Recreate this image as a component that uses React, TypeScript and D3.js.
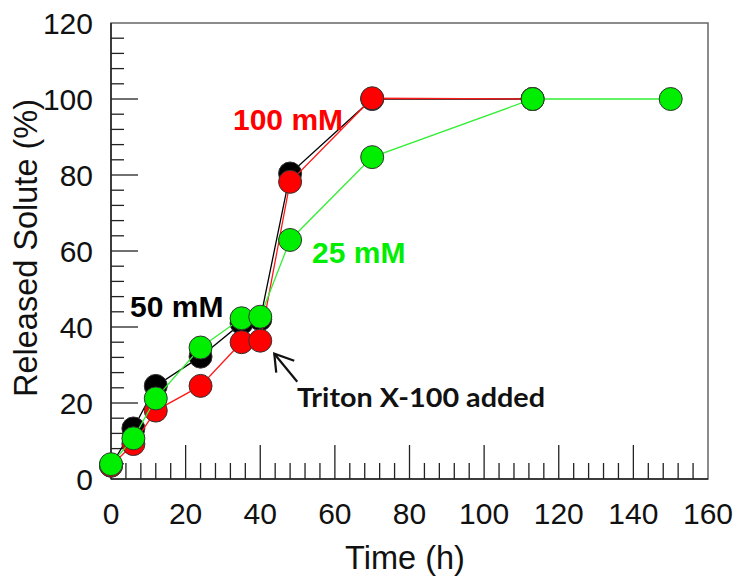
import React from "react";
import * as d3 from "d3";

// sampling times (h)
const times = [0, 6, 12, 24, 35, 40, 48, 70, 113];
const times25 = [0, 6, 12, 24, 35, 40, 48, 70, 113, 150];

// released solute (%)
const released50 = [3.5, 13.3, 24.5, 32.2, 41, 42, 80.4, 100, 100];
const released100 = [3.5, 9.2, 18, 24.5, 36, 36.4, 78.2, 100.2, 100];
const released25 = [3.9, 10.7, 21.2, 34.6, 42.3, 42.7, 62.9, 84.7, 100, 100];

const xMajor = [0, 20, 40, 60, 80, 100, 120, 140, 160];
const yMajor = [0, 20, 40, 60, 80, 100, 120];

const W = 739;
const H = 578;
const left = 111;
const right = 708;
const top = 23;
const bottom = 479;

const App: React.FC = () => {
  const x = d3.scaleLinear().domain([0, 160]).range([left, right]);
  const y = d3.scaleLinear().domain([0, 120]).range([bottom, top]);

  const series = [
    { name: "50", t: times, v: released50, color: "#000000", line: "#000000" },
    { name: "100", t: times, v: released100, color: "#ff0000", line: "#ff1a1a" },
    { name: "25", t: times25, v: released25, color: "#00ee00", line: "#33ee33" },
  ];

  const line = d3
    .line<[number, number]>()
    .x((d) => x(d[0]))
    .y((d) => y(d[1]));

  const xMinor = d3.range(0, 161, 4).filter((d) => d % 20 !== 0);
  const yMinor = d3.range(0, 121, 4).filter((d) => d % 20 !== 0);

  const font = "'Liberation Sans', Arial, sans-serif";

  // arrow pointing to the t=40 point
  const tip: [number, number] = [x(40) + 14, y(36.4) + 13];
  const tail: [number, number] = [tip[0] + 23, tip[1] + 28];

  return (
    <svg
      width={W}
      height={H}
      style={{ position: "absolute", left: 0, top: 0, background: "#fff" }}
    >
      {/* frame */}
      <rect
        x={left}
        y={top}
        width={right - left}
        height={bottom - top}
        fill="none"
        stroke="#666"
        strokeWidth={1.5}
      />
      <line x1={left} x2={left} y1={top} y2={bottom} stroke="#222" strokeWidth={1.5} />
      <line x1={left} x2={right} y1={bottom} y2={bottom} stroke="#222" strokeWidth={1.5} />

      {/* y ticks */}
      {yMajor.map((d) => (
        <g key={"ym" + d}>
          {d > 0 && d < 120 && (
            <line x1={left} x2={left + 27} y1={y(d)} y2={y(d)} stroke="#222" strokeWidth={1.3} />
          )}
          <text
            x={93}
            y={y(d)}
            dy="0.36em"
            textAnchor="end"
            fontFamily={font}
            fontSize={30}
            fill="#111"
          >
            {d}
          </text>
        </g>
      ))}
      {yMinor.map((d) => (
        <line key={"yn" + d} x1={left} x2={left + 13} y1={y(d)} y2={y(d)} stroke="#222" strokeWidth={1.3} />
      ))}

      {/* x ticks */}
      {xMajor.map((d) => (
        <g key={"xm" + d}>
          {d > 0 && d < 160 && (
            <line x1={x(d)} x2={x(d)} y1={bottom} y2={bottom - 34} stroke="#222" strokeWidth={1.3} />
          )}
          <text
            x={x(d)}
            y={524}
            textAnchor="middle"
            fontFamily={font}
            fontSize={30}
            fill="#111"
          >
            {d}
          </text>
        </g>
      ))}
      {xMinor.map((d) => (
        <line key={"xn" + d} x1={x(d)} x2={x(d)} y1={bottom} y2={bottom - 16} stroke="#222" strokeWidth={1.3} />
      ))}

      {/* axis titles */}
      <text
        x={405}
        y={569}
        textAnchor="middle"
        fontFamily={font}
        fontSize={32.5}
        fill="#111"
      >
        Time (h)
      </text>
      <text
        transform={`translate(37,248) rotate(-90)`}
        textAnchor="middle"
        fontFamily={font}
        fontSize={32.5}
        fill="#111"
      >
        Released Solute (%)
      </text>

      {/* series */}
      {series.map((s) => {
        const pts = s.t.map((t, i) => [t, s.v[i]] as [number, number]);
        return (
          <g key={s.name}>
            <path d={line(pts) || ""} fill="none" stroke={s.line} strokeWidth={1.3} />
            {pts.map((p, i) => (
              <circle
                key={i}
                cx={x(p[0])}
                cy={y(p[1])}
                r={11.5}
                fill={s.color}
                stroke="#333"
                strokeWidth={1}
              />
            ))}
          </g>
        );
      })}

      {/* labels */}
      <text x={233} y={130} fontFamily={font} fontWeight="bold" fontSize={30} fill="#ff0000">
        100 mM
      </text>
      <text x={130} y={317} fontFamily={font} fontWeight="bold" fontSize={30} fill="#000">
        50 mM
      </text>
      <text x={312} y={263} fontFamily={font} fontWeight="bold" fontSize={30} fill="#00ee00">
        25 mM
      </text>

      {/* annotation */}
      <line x1={tail[0]} y1={tail[1]} x2={tip[0]} y2={tip[1]} stroke="#111" strokeWidth={2.2} />
      <polyline
        points={`${tip[0] + 20},${tip[1] + 7} ${tip[0]},${tip[1]} ${tip[0] + 2},${tip[1] + 19}`}
        fill="none"
        stroke="#111"
        strokeWidth={2.2}
      />
      <text
        x={297}
        y={407}
        fontFamily="Lato, 'Open Sans', sans-serif"
        fontWeight="bold"
        fontSize={26}
        textLength={248}
        lengthAdjust="spacingAndGlyphs"
        fill="#111"
      >
        Triton X-100 added
      </text>
    </svg>
  );
};

export default App;
